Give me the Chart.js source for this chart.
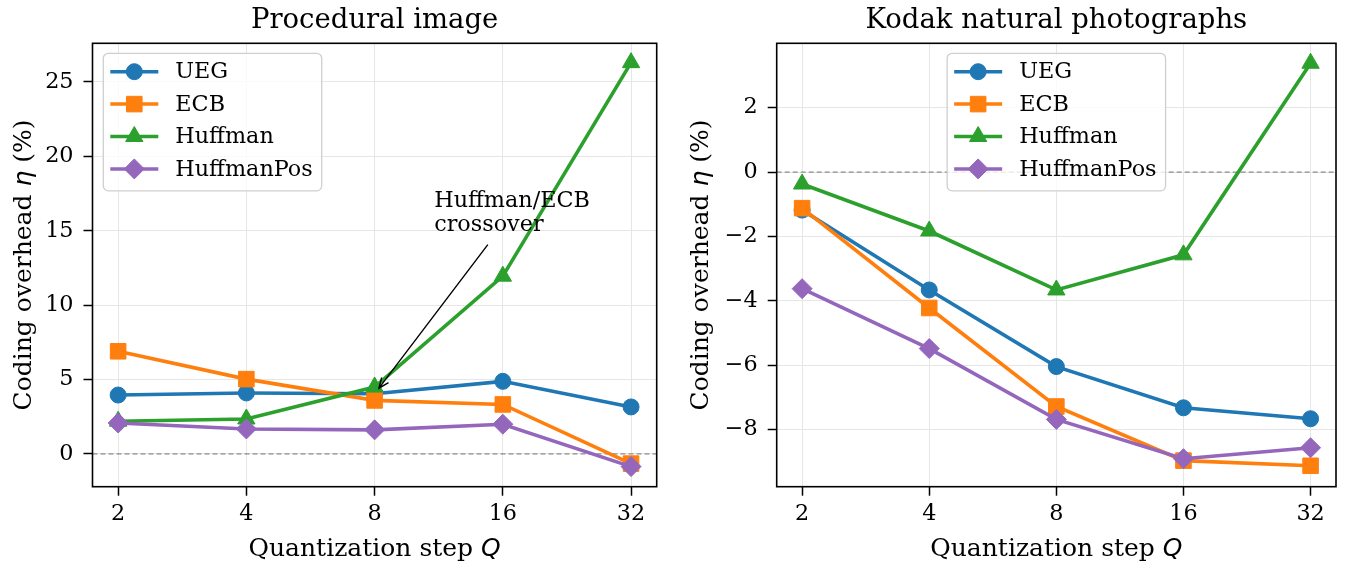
<!DOCTYPE html>
<html>
<head>
<meta charset="utf-8">
<script src="https://cdn.jsdelivr.net/npm/chart.js@4.4.1/dist/chart.umd.min.js"></script>
<style>
  html, body { margin: 0; padding: 0; background: #fff; }
  #wrap { position: relative; width: 1348px; height: 563px; }
  .panel { position: absolute; top: 0; width: 674px; height: 563px; }
</style>
</head>
<body>
<div id="wrap">
  <div class="panel" style="left:0"><canvas id="left" width="674" height="563"></canvas></div>
  <div class="panel" style="left:674px"><canvas id="right" width="674" height="563"></canvas></div>
</div>
<script>
// data
const qSteps = ['2', '4', '8', '16', '32'];
const seriesNames = ['UEG', 'ECB', 'Huffman', 'HuffmanPos'];

const procUEG = [3.96, 4.1, 4.05, 4.88, 3.16];
const procECB = [6.9, 5.03, 3.6, 3.33, -0.65];
const procHuffman = [2.2, 2.35, 4.5, 11.95, 26.3];
const procHuffmanPos = [2.08, 1.68, 1.62, 2.0, -0.85];

const kodakUEG = [-1.18, -3.66, -6.04, -7.32, -7.66];
const kodakECB = [-1.12, -4.22, -7.28, -8.96, -9.12];
const kodakHuffman = [-0.37, -1.83, -3.66, -2.57, 3.38];
const kodakHuffmanPos = [-3.62, -5.48, -7.68, -8.9, -8.56];

const procYTicks = [0, 5, 10, 15, 20, 25];
const kodakYTicks = [-8, -6, -4, -2, 0, 2];

// styling
const colors = ['#1f77b4', '#ff7f0e', '#2ca02c', '#9467bd'];
const markers = ['circle', 'rect', 'triangle', 'rectRot'];
const radii = [8, 11, 10, 10];
const SERIF = '"DejaVu Serif", serif';
const SANS = '"DejaVu Sans", sans-serif';
const TICK_PX = 22.3;
const LABEL_PX = 25;
const TITLE_PX = 27.5;

function fmtTick(v) {
  return String(v).replace('-', '\u2212');
}

function drawMarker(ctx, style, r, x, y, color) {
  ctx.save();
  ctx.fillStyle = color;
  ctx.strokeStyle = color;
  ctx.lineWidth = 1;
  Chart.helpers.drawPoint(ctx, { pointStyle: style, radius: r, borderWidth: 1, rotation: 0 }, x, y);
  ctx.restore();
}

// mixed upright / italic text, centred on (0,0) of the current transform
function drawParts(ctx, parts) {
  let total = 0;
  parts.forEach(p => { ctx.font = p.font; p.w = ctx.measureText(p.t).width; total += p.w; });
  let x = -total / 2;
  ctx.textAlign = 'left';
  ctx.textBaseline = 'alphabetic';
  parts.forEach(p => { ctx.font = p.font; ctx.fillText(p.t, x, 0); x += p.w; });
}

const decor = {
  id: 'decor',
  beforeDatasetsDraw(chart) {
    const { ctx, chartArea: a, scales: { y } } = chart;
    const y0 = y.getPixelForValue(0);
    ctx.save();
    ctx.strokeStyle = '#8c8c8c';
    ctx.lineWidth = 1.3;
    ctx.setLineDash([5, 3]);
    ctx.beginPath();
    ctx.moveTo(a.left, y0);
    ctx.lineTo(a.right, y0);
    ctx.stroke();
    ctx.restore();
  },
  afterDatasetsDraw(chart, args, opts) {
    const ann = opts.annotation;
    if (!ann) return;
    const { ctx, scales: { x, y } } = chart;
    ctx.save();
    ctx.fillStyle = '#000';
    ctx.font = TICK_PX + 'px ' + SERIF;
    ctx.textAlign = 'left';
    ctx.textBaseline = 'alphabetic';
    const tx = x.getPixelForValue(ann.textAt[0]);
    const ty = y.getPixelForValue(ann.textAt[1]);
    ann.text.forEach((t, i) => ctx.fillText(t, tx, ty + i * 24));
    const x1 = x.getPixelForValue(ann.from[0]), y1 = y.getPixelForValue(ann.from[1]);
    const x2 = x.getPixelForValue(ann.to[0]), y2 = y.getPixelForValue(ann.to[1]);
    ctx.strokeStyle = '#000';
    ctx.lineWidth = 1.4;
    ctx.beginPath();
    ctx.moveTo(x1, y1);
    ctx.lineTo(x2, y2);
    const ang = Math.atan2(y2 - y1, x2 - x1);
    const hl = 11, hw = 0.4;
    ctx.moveTo(x2 - hl * Math.cos(ang - hw), y2 - hl * Math.sin(ang - hw));
    ctx.lineTo(x2, y2);
    ctx.lineTo(x2 - hl * Math.cos(ang + hw), y2 - hl * Math.sin(ang + hw));
    ctx.stroke();
    ctx.restore();
  },
  afterDraw(chart, args, opts) {
    const { ctx, chartArea: a } = chart;
    ctx.save();

    // axes frame
    ctx.strokeStyle = '#000';
    ctx.lineWidth = 1.6;
    ctx.strokeRect(a.left, a.top, a.right - a.left, a.bottom - a.top);

    // title
    ctx.fillStyle = '#000';
    ctx.font = TITLE_PX + 'px ' + SERIF;
    ctx.textAlign = 'center';
    ctx.textBaseline = 'alphabetic';
    ctx.fillText(opts.title, (a.left + a.right) / 2, 27.5);

    // x axis title
    ctx.save();
    ctx.translate((a.left + a.right) / 2, 556);
    drawParts(ctx, [
      { t: 'Quantization step ', font: LABEL_PX + 'px ' + SERIF },
      { t: 'Q', font: 'italic ' + LABEL_PX + 'px ' + SANS }
    ]);
    ctx.restore();

    // y axis title
    ctx.save();
    ctx.translate(opts.yTitleX, (a.top + a.bottom) / 2);
    ctx.rotate(-Math.PI / 2);
    drawParts(ctx, [
      { t: 'Coding overhead ', font: LABEL_PX + 'px ' + SERIF },
      { t: '\u03b7', font: 'italic ' + LABEL_PX + 'px ' + SANS },
      { t: ' (%)', font: LABEL_PX + 'px ' + SERIF }
    ]);
    ctx.restore();

    // legend
    ctx.font = TICK_PX + 'px ' + SERIF;
    const names = chart.data.datasets.map(d => d.label);
    const textW = Math.max(...names.map(n => ctx.measureText(n).width));
    const w = 72 + textW + 9, h = 137.5;
    const bx = opts.legendAlign === 'center' ? (a.left + a.right) / 2 - w / 2 : a.left + 10.8;
    const by = a.top + 10;
    ctx.beginPath();
    ctx.roundRect(bx, by, w, h, 5);
    ctx.fillStyle = 'rgba(255,255,255,0.8)';
    ctx.fill();
    ctx.strokeStyle = '#cfcfcf';
    ctx.lineWidth = 1.3;
    ctx.stroke();
    chart.data.datasets.forEach((d, i) => {
      const cy = by + 18.4 + i * 32.4;
      ctx.strokeStyle = d.borderColor;
      ctx.lineWidth = 3.5;
      ctx.beginPath();
      ctx.moveTo(bx + 7, cy);
      ctx.lineTo(bx + 55, cy);
      ctx.stroke();
      drawMarker(ctx, d.pointStyle, d.pointRadius, bx + 31, cy, d.borderColor);
      ctx.fillStyle = '#000';
      ctx.font = TICK_PX + 'px ' + SERIF;
      ctx.textAlign = 'left';
      ctx.textBaseline = 'middle';
      ctx.fillText(d.label, bx + 72, cy + 1);
    });
    ctx.restore();
  }
};

function makeChart(id, cfg) {
  return new Chart(document.getElementById(id), {
    type: 'line',
    data: {
      datasets: cfg.series.map((vals, i) => ({
        label: seriesNames[i],
        data: vals.map((v, j) => ({ x: j, y: v })),
        borderColor: colors[i],
        backgroundColor: colors[i],
        borderWidth: 3.6,
        pointStyle: markers[i],
        pointRadius: radii[i],
        pointHoverRadius: radii[i],
        pointBorderWidth: 1,
        order: 4 - i
      }))
    },
    options: {
      responsive: false,
      animation: false,
      devicePixelRatio: 1,
      layout: { padding: { left: 0, top: 43.3, right: cfg.padRight, bottom: 0 } },
      plugins: {
        legend: { display: false },
        tooltip: { enabled: false },
        decor: {
          title: cfg.title,
          yTitleX: cfg.yTitleX,
          legendAlign: cfg.legendAlign,
          annotation: cfg.annotation
        }
      },
      scales: {
        x: {
          type: 'linear',
          min: -0.2,
          max: 4.2,
          afterBuildTicks: s => { s.ticks = qSteps.map((_, j) => ({ value: j })); },
          afterFit: s => { s.height = 76.3; },
          ticks: {
            callback: v => qSteps[v],
            font: { family: SERIF, size: TICK_PX },
            color: '#000',
            padding: 5,
            maxRotation: 0,
            autoSkip: false
          },
          grid: { color: '#e6e6e6', lineWidth: 1, tickColor: '#000', tickLength: 9, tickWidth: 1.5 },
          border: { display: false }
        },
        y: {
          min: cfg.yMin,
          max: cfg.yMax,
          afterBuildTicks: s => { s.ticks = cfg.yTicks.map(v => ({ value: v })); },
          afterFit: s => { s.width = cfg.axisLeft; },
          ticks: {
            callback: v => fmtTick(v),
            font: { family: SERIF, size: TICK_PX },
            color: '#000',
            padding: 10
          },
          grid: { color: '#e6e6e6', lineWidth: 1, tickColor: '#000', tickLength: 9, tickWidth: 1.5 },
          border: { display: false }
        }
      }
    },
    plugins: [decor]
  });
}

makeChart('left', {
  series: [procUEG, procECB, procHuffman, procHuffmanPos],
  yTicks: procYTicks,
  yMin: -2.2,
  yMax: 27.6,
  axisLeft: 92.5,
  padRight: 17.3,
  yTitleX: 31,
  title: 'Procedural image',
  legendAlign: 'left',
  annotation: {
    text: ['Huffman/ECB', 'crossover'],
    textAt: [2.465, 16.63],
    from: [2.883, 14.07],
    to: [2.034, 4.42]
  }
});

makeChart('right', {
  series: [kodakUEG, kodakECB, kodakHuffman, kodakHuffmanPos],
  yTicks: kodakYTicks,
  yMin: -9.77,
  yMax: 4.0,
  axisLeft: 102.7,
  padRight: 7.3,
  yTitleX: 34,
  title: 'Kodak natural photographs',
  legendAlign: 'center',
  annotation: null
});
</script>
</body>
</html>
